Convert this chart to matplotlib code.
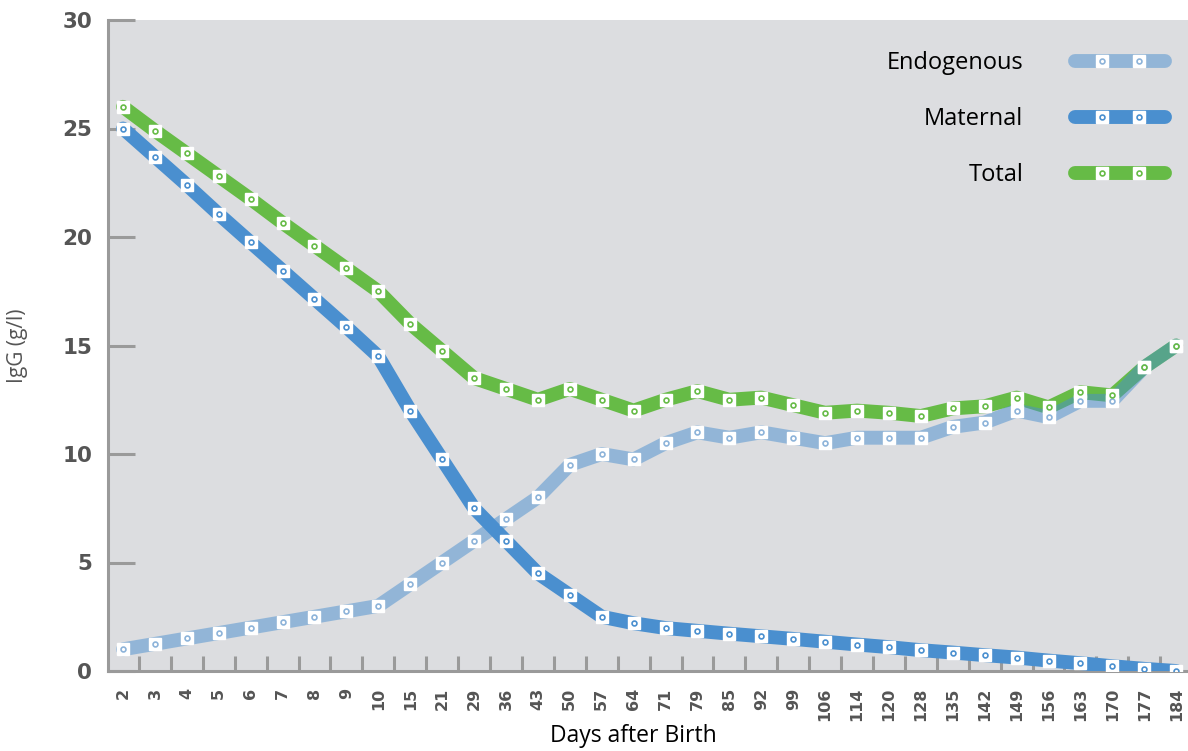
import matplotlib
matplotlib.use("Agg")
import matplotlib.pyplot as plt
from matplotlib.legend_handler import HandlerTuple, HandlerLine2D

days = ["2", "3", "4", "5", "6", "7", "8", "9", "10", "15", "21", "29", "36", "43",
        "50", "57", "64", "71", "79", "85", "92", "99", "106", "114", "120", "128",
        "135", "142", "149", "156", "163", "170", "177", "184"]

endogenous = [1.0, 1.25, 1.5, 1.75, 2.0, 2.25, 2.5, 2.75, 3.0, 4.0, 5.0, 6.0, 7.0, 8.0,
              9.5, 10.0, 9.75, 10.5, 11.0, 10.75, 11.0, 10.75, 10.5, 10.75, 10.75, 10.75,
              11.25, 11.45, 12.0, 11.7, 12.45, 12.45, 14.0, 15.0]

maternal = [25.0, 23.7, 22.4, 21.05, 19.75, 18.45, 17.15, 15.85, 14.5, 12.0, 9.75, 7.5,
            6.0, 4.5, 3.5, 2.5, 2.2, 1.98, 1.85, 1.72, 1.6, 1.48, 1.35, 1.22, 1.1, 0.96,
            0.85, 0.73, 0.62, 0.48, 0.36, 0.22, 0.1, 0.0]

total = [26.0, 24.9, 23.85, 22.8, 21.75, 20.65, 19.6, 18.55, 17.5, 16.0, 14.75, 13.5,
         13.0, 12.5, 13.0, 12.5, 12.0, 12.5, 12.9, 12.5, 12.6, 12.25, 11.9, 12.0, 11.9,
         11.75, 12.1, 12.2, 12.6, 12.15, 12.85, 12.7, 14.0, 15.0]

blue = "#4a8fcf"
green = "#66bb46"
axis_gray = "#9a9a9a"
text_gray = "#555555"
font = "Open Sans"

x = list(range(len(days)))

fig = plt.figure(figsize=(11.88, 7.51), dpi=100)
ax = fig.add_axes([108 / 1188, 80 / 751, 1 - 108 / 1188, 651 / 751])
ax.set_facecolor("#dcdde0")

lw = 10
line_kw = dict(solid_capstyle="round", solid_joinstyle="round")

l_tot, = ax.plot(x, total, color=green, lw=lw, zorder=2, **line_kw)
l_endo, = ax.plot(x, endogenous, color=blue, alpha=0.5, lw=lw, zorder=3, **line_kw)
l_mat, = ax.plot(x, maternal, color=blue, lw=lw, zorder=4, **line_kw)

handles = []
hmap = {tuple: HandlerTuple(ndivide=1)}
for line, vals, col in [(l_endo, endogenous, "#8db3d9"), (l_mat, maternal, blue), (l_tot, total, green)]:
    sq, = ax.plot(x, vals, ls="none", marker="s", ms=9, mfc="white", mec="white", zorder=5)
    dot, = ax.plot(x, vals, ls="none", marker="o", ms=3.5, mfc="white", mec=col, mew=1.2, zorder=6)
    handles.append((line, sq, dot))
    hmap[sq] = HandlerLine2D(marker_pad=1.42, numpoints=2)
    hmap[dot] = HandlerLine2D(marker_pad=1.42, numpoints=2)

ax.set_xlim(-0.47, len(days) - 1 + 0.37)
ax.set_ylim(0, 30)

ax.set_xticks(x)
ax.set_xticklabels(days, rotation=90, fontsize=11.5, fontweight="bold", color=text_gray,
                   family="DejaVu Sans")
ax.tick_params(axis="x", which="major", length=0, pad=12)
ax.set_xticks([i + 0.5 for i in range(len(days) - 1)], minor=True)
ax.tick_params(axis="x", which="minor", direction="in", length=11, width=2.2, color=axis_gray)

ax.set_yticks([0, 5, 10, 15, 20, 25, 30])
ax.set_yticklabels(["0", "5", "10", "15", "20", "25", "30"], fontsize=15.5, fontweight="bold",
                   color=text_gray, family="DejaVu Sans")
ax.tick_params(axis="y", direction="in", length=19.5, width=2.2, color=axis_gray, pad=11.5)

for side in ["top", "right"]:
    ax.spines[side].set_visible(False)
for side in ["left", "bottom"]:
    ax.spines[side].set_color(axis_gray)
    ax.spines[side].set_linewidth(2.2)

ax.set_ylabel("IgG (g/l)", fontsize=15, color=text_gray, family=font)
ax.yaxis.set_label_coords((28 - 108) / 1080, 0.5)
ax.set_xlabel("Days after Birth", fontsize=16.5, color="black", family=font)
ax.xaxis.set_label_coords((633 - 108) / 1080, -0.082)

leg = ax.legend(handles, ["Endogenous", "Maternal", "Total"], handler_map=hmap,
                loc="upper right", bbox_to_anchor=(1.005, 0.985), frameon=False,
                markerfirst=False, numpoints=2, handlelength=4.4, handletextpad=1.9,
                labelspacing=1.36, prop={"family": font, "size": 17})

fig.savefig("out.png", dpi=100, facecolor="white")
